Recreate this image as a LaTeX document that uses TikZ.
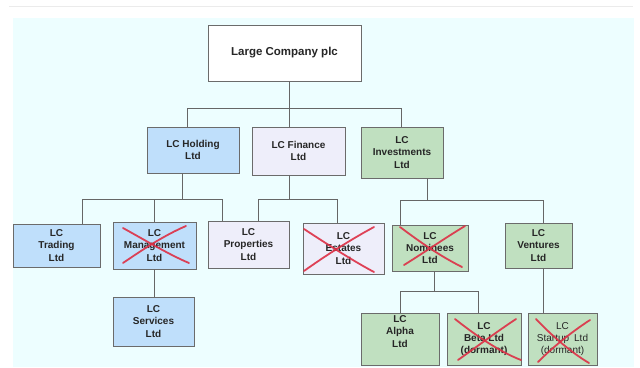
\documentclass[tikz,border=0pt]{standalone}
\usepackage{fontspec}
\setmainfont{Liberation Sans}
\begin{document}
\begin{tikzpicture}[x=1pt,y=-1pt,
  box/.style={draw=black!58, line width=0.9pt, align=center, inner sep=1pt,
    font=\bfseries\fontsize{10}{12.3}\selectfont, text=black!85},
  bluebox/.style={box, fill=blueF},
  lavbox/.style={box, fill=lavF},
  greenbox/.style={box, fill=greenF},
  conn/.style={draw=black!60, line width=0.8pt},
  cross/.style={draw=redX, line width=1.8pt, line cap=round, opacity=0.9}]
\definecolor{bgC}{HTML}{EDFEFF}
\definecolor{blueF}{HTML}{BFDFFB}
\definecolor{lavF}{HTML}{EEEEFA}
\definecolor{greenF}{HTML}{C0E0C0}
\definecolor{redX}{HTML}{DD2F45}
\useasboundingbox (0,0) rectangle (640,367);
\fill[white] (0,0) rectangle (640,367);
\draw[black!8, line width=0.8pt] (9,6) -- (633,6);
\fill[bgC] (13,18) rectangle (634,367);

% boxes (centre x, centre y, width, height)
\node[box, fill=white, minimum width=153pt, minimum height=56pt,
  font=\bfseries\fontsize{11.5}{13}\selectfont] (top) at (284.5,53) {Large Company plc};
\node[bluebox, minimum width=92pt, minimum height=46pt] (hold) at (193,150) {LC Holding\\Ltd};
\node[lavbox, minimum width=93pt, minimum height=48pt] (fin) at (298.5,151) {LC Finance\\Ltd};
\node[greenbox, minimum width=82pt, minimum height=51pt] (inv) at (402,152.5) {LC\\Investments\\Ltd};
\node[bluebox, minimum width=87pt, minimum height=43pt] (trad) at (56.5,245.5) {LC\\Trading\\Ltd};
\node[bluebox, minimum width=83pt, minimum height=47pt] (mgmt) at (154.5,245.5) {LC\\Management\\Ltd};
\node[lavbox, minimum width=81pt, minimum height=47pt] (prop) at (248.5,244.5) {LC\\Properties\\Ltd};
\node[lavbox, minimum width=81pt, minimum height=51pt] (est) at (343.5,248.5) {LC\\Estates\\Ltd};
\node[greenbox, minimum width=76pt, minimum height=46pt] (nom) at (430,248) {LC\\Nominees\\Ltd};
\node[greenbox, minimum width=67pt, minimum height=45pt] (vent) at (538.5,245.5) {LC\\Ventures\\Ltd};
\node[bluebox, minimum width=81pt, minimum height=49pt] (serv) at (153.5,321.5) {LC\\Services\\Ltd};
\node[greenbox, minimum width=78pt, minimum height=52pt, text depth=0pt] (alpha) at (400,339) {LC\\Alpha\\Ltd\\[3pt]};
\node[greenbox, minimum width=74pt, minimum height=52pt] (beta) at (484,339) {LC\\Beta Ltd\\(dormant)};
\node[greenbox, minimum width=69pt, minimum height=52pt, font=\fontsize{10}{12}\selectfont] (start) at (562.5,339) {LC\\Startup\enspace Ltd\\(dormant)};

% bus coordinates
\coordinate (tA) at (289,108);
\coordinate (tL) at (187,108);
\coordinate (tR) at (401,108);
\coordinate (hB) at (182,199);
\coordinate (hL) at (82,199);
\coordinate (hM) at (154,199);
\coordinate (hR) at (222,199);
\coordinate (fB) at (289,199);
\coordinate (fL) at (258,199);
\coordinate (fR) at (337,199);
\coordinate (iB) at (427,200);
\coordinate (iL) at (400,200);
\coordinate (iR) at (543,200);
\coordinate (nB) at (434,291);
\coordinate (nL) at (400,291);
\coordinate (nR) at (478,291);

% level 1
\draw[conn] (top.south -| tA) -- (tA);
\draw[conn] (tL) -- (tR);
\draw[conn] (tL) -- (tL |- hold.north);
\draw[conn] (tA) -- (tA |- fin.north);
\draw[conn] (tR) -- (tR |- inv.north);
% holding
\draw[conn] (hold.south -| hB) -- (hB);
\draw[conn] (hL) -- (hR);
\draw[conn] (hL) -- (hL |- trad.north);
\draw[conn] (hM) -- (hM |- mgmt.north);
\draw[conn] (hR) -- (hR |- prop.north);
% finance
\draw[conn] (fin.south -| fB) -- (fB);
\draw[conn] (fL) -- (fR);
\draw[conn] (fL) -- (fL |- prop.north);
\draw[conn] (fR) -- (fR |- est.north);
% investments
\draw[conn] (inv.south -| iB) -- (iB);
\draw[conn] (iL) -- (iR);
\draw[conn] (iL) -- (iL |- nom.north);
\draw[conn] (iR) -- (iR |- vent.north);
% management -> services
\draw[conn] (mgmt.south) -- (serv.north -| mgmt.south);
% nominees
\draw[conn] (nom.south -| nB) -- (nB);
\draw[conn] (nL) -- (nR);
\draw[conn] (nL) -- (nL |- alpha.north);
\draw[conn] (nR) -- (nR |- beta.north);
% ventures -> startup
\draw[conn] (vent.south -| iR) -- (iR |- start.north);

% red crosses
\draw[cross] (123,228) .. controls (150,243) and (170,255) .. (189,263);
\draw[cross] (123,263) .. controls (145,248) and (165,235) .. (186,226);
\draw[cross] (304,229) .. controls (330,246) and (355,262) .. (374,272);
\draw[cross] (304,271) .. controls (325,256) and (350,240) .. (374,227);
\draw[cross] (400,227) .. controls (420,242) and (440,256) .. (462,267);
\draw[cross] (404,265) .. controls (425,252) and (445,238) .. (465,226);
\draw[cross] (455,319) .. controls (475,335) and (500,352) .. (521,360);
\draw[cross] (458,360) .. controls (475,348) and (495,333) .. (516,319);
\draw[cross] (536,319) .. controls (552,336) and (572,353) .. (589,363);
\draw[cross] (538,362) .. controls (552,348) and (570,333) .. (590,320);
\end{tikzpicture}
\end{document}
